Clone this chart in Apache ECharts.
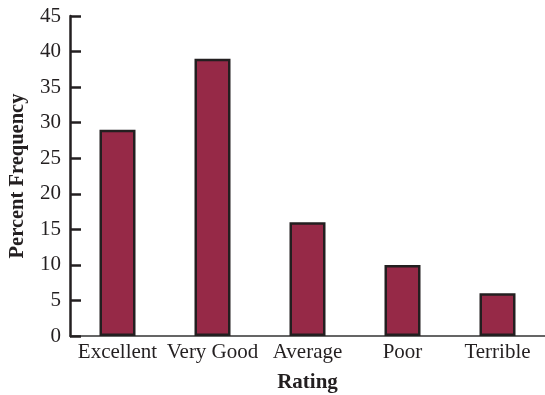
<!DOCTYPE html>
<html>
<head>
<meta charset="utf-8">
<script src="https://cdn.jsdelivr.net/npm/echarts@6/dist/echarts.min.js"></script>
<style>
html,body{margin:0;padding:0;background:#fff;}
#chart{width:545px;height:395px;}
</style>
</head>
<body>
<div id="chart"></div>
<script>
const categories = ["Excellent", "Very Good", "Average", "Poor", "Terrible"];
const percentFrequency = [29, 39, 16, 10, 6];
const yTicks = [0, 5, 10, 15, 20, 25, 30, 35, 40, 45];

const FONT = '"Liberation Serif", "Times New Roman", serif';
const chart = echarts.init(document.getElementById('chart'), null, {renderer: 'canvas'});
chart.setOption({
  animation: false,
  backgroundColor: '#ffffff',
  grid: {left: 70, right: 0, top: 16, bottom: 59, containLabel: false, outerBoundsMode: 'none'},
  xAxis: {
    type: 'category',
    data: categories,
    name: 'Rating',
    nameLocation: 'middle',
    nameGap: 36,
    nameTextStyle: {fontFamily: FONT, fontWeight: 'bold', fontSize: 21, color: '#231f20'},
    axisLine: {lineStyle: {color: '#333333', width: 1.5}},
    axisTick: {show: false},
    axisLabel: {fontFamily: FONT, fontSize: 21, color: '#231f20', margin: 6, interval: 0}
  },
  yAxis: {
    type: 'value',
    min: yTicks[0],
    max: yTicks[yTicks.length - 1],
    interval: 5,
    name: 'Percent Frequency',
    nameLocation: 'middle',
    nameGap: 42,
    nameTextStyle: {fontFamily: FONT, fontWeight: 'bold', fontSize: 20.5, color: '#231f20'},
    axisLine: {show: true, lineStyle: {color: '#231f20', width: 2.5}},
    axisTick: {show: true, inside: true, length: 11, lineStyle: {color: '#231f20', width: 2.5}},
    axisLabel: {fontFamily: FONT, fontSize: 21, color: '#231f20', margin: 9},
    splitLine: {show: false}
  },
  series: [{
    type: 'bar',
    data: percentFrequency,
    barWidth: 36,
    itemStyle: {color: '#962947', borderColor: '#231f20', borderWidth: 2.5}
  }]
});
</script>
</body>
</html>
